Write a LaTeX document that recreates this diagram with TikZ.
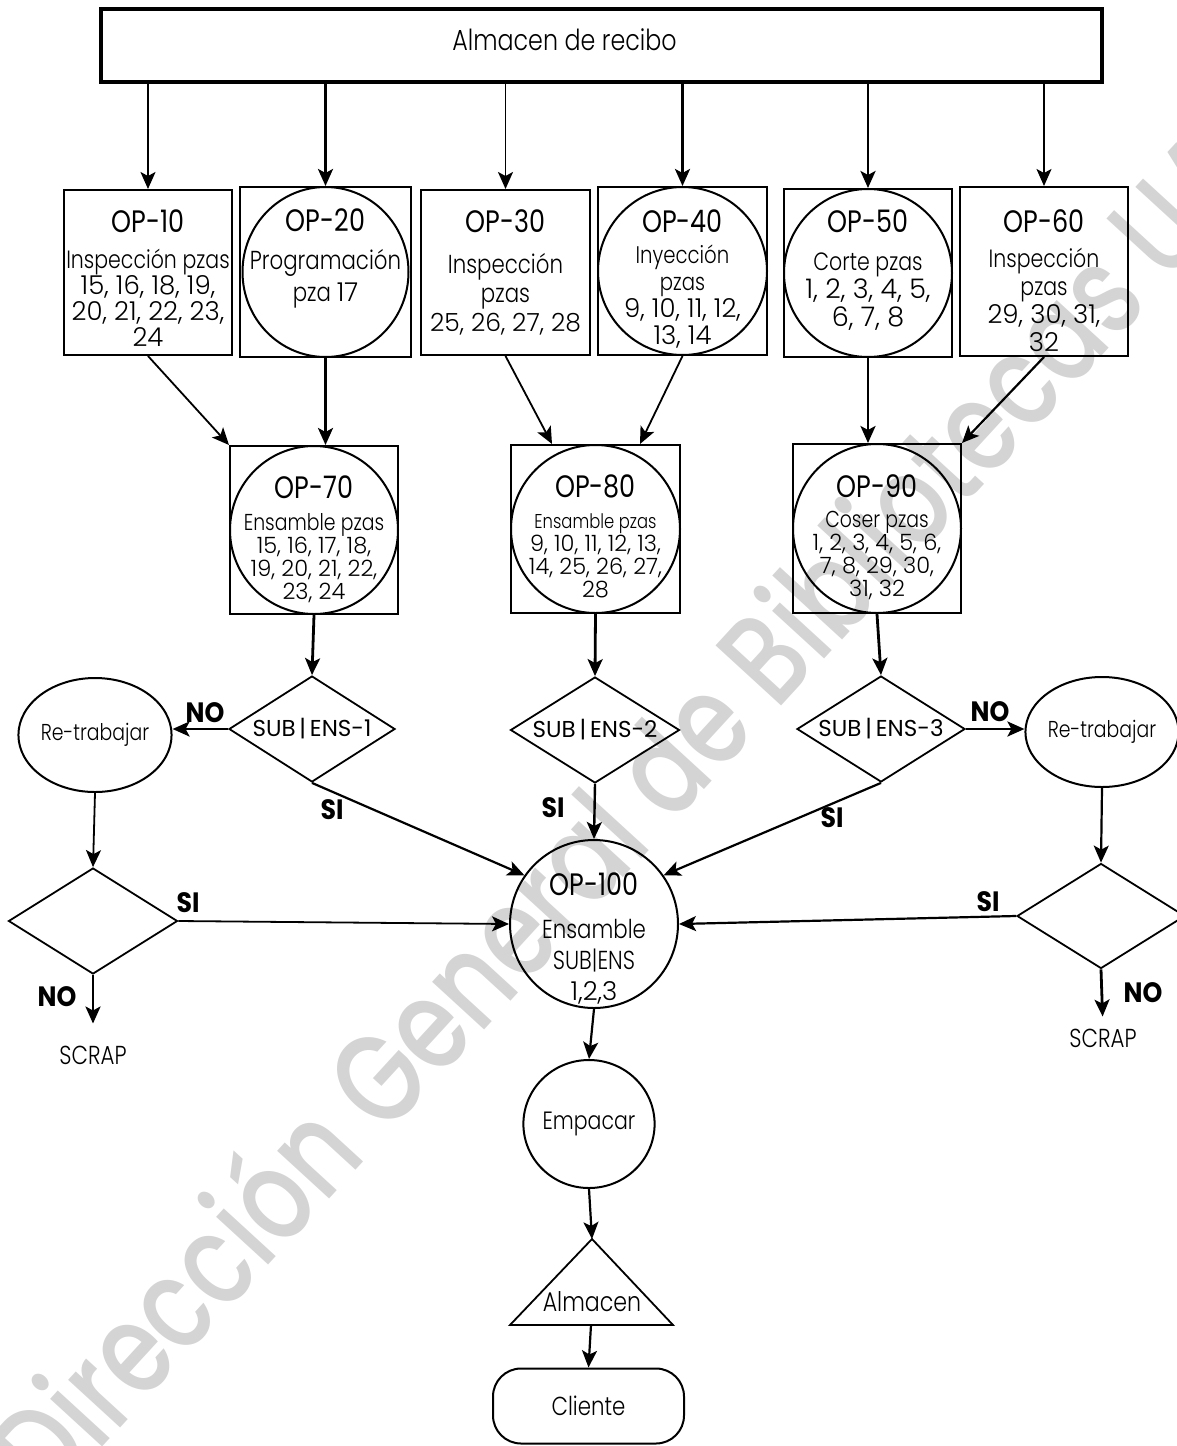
\documentclass[tikz,border=0pt]{standalone}
\usepackage{fontspec}
\usetikzlibrary{arrows.meta,shapes.geometric,calc}
\setmainfont{Poppins}[FakeStretch=0.9]
\newfontfamily\rgf{Poppins}[FakeStretch=0.82]
\newfontfamily\rgb{Poppins}[FakeStretch=0.9]
\newfontfamily\rgw{Poppins}
\IfFontExistsTF{Poppins Light}
 {\newfontfamily\ltf{Poppins Light}[FakeStretch=0.82]
  \newfontfamily\numf{Poppins Light}}
 {\newfontfamily\ltf{Poppins}[FakeStretch=0.82]
  \newfontfamily\numf{Poppins}}
\IfFontExistsTF{Poppins Medium}
 {\newfontfamily\wmf{Poppins Medium}[FakeStretch=0.78]}
 {\newfontfamily\wmf{Poppins}[FakeStretch=0.78]}
\newcommand\fz[2]{\fontsize{#1}{#2}\selectfont}
\newcommand\wdtx[1]{{\ltf #1}}
\begin{document}
\begin{tikzpicture}[x=1pt,y=-1pt,
 arr/.style={line width=1.8pt,-{Stealth[length=17pt,width=15pt,inset=4pt]}},
 tarr/.style={arr,line width=2.8pt},
 opbox/.style={draw,line width=2pt,rectangle,inner sep=0pt,minimum width=168pt,minimum height=167pt},
 opell/.style={draw,line width=2pt,ellipse,inner sep=0pt},
 ttl/.style={font=\rgf\fz{31}{33},inner sep=0pt},
 bdy/.style={align=center,inner sep=0pt},
 dia/.style={draw,diamond,line width=1.8pt,inner sep=0pt,minimum width=168pt,minimum height=106pt},
 dtxt/.style={font=\rgw\fz{23}{26},inner sep=0pt},
 lbl/.style={font=\rgb\bfseries\fz{28}{30},inner sep=0pt},
 rw/.style={draw,line width=2pt,ellipse,inner sep=0pt,minimum width=124pt,minimum height=114pt,font=\ltf\fz{23}{26}},
 plain/.style={inner sep=0pt},
]
\useasboundingbox (0,0) rectangle (1177,1446);

% watermark
\node[font=\wmf\fz{128}{128},text=black!17,rotate=47.5,inner sep=0pt] (wmark) at (650,785) {Dirección General de Bibliotecas UAQ};

% top box
\node[draw,line width=3.5pt,rectangle,inner sep=0pt,minimum width=1001pt,minimum height=73pt] (tb) at (601.5,45.5) {};
\node[font=\ltf\fz{29}{32},inner sep=0pt] (tbt) at (564.5,40) {Almacen de recibo};

% row 1
\node[opbox,minimum height=165pt] (op10) at (148,272.5) {};
\node[opbox,minimum width=171pt,minimum height=170pt] (op20) at (325.5,272) {};
\node[opell,minimum width=166pt,minimum height=170pt] (op20c) at (325.5,272) {};
\node[opbox,minimum width=169pt,minimum height=165pt] (op30) at (505.5,272.5) {};
\node[opbox,minimum width=169pt,minimum height=168pt] (op40) at (682.5,271) {};
\node[opell,minimum width=169pt,minimum height=168pt] (op40c) at (682.5,271) {};
\node[opbox,minimum height=168pt] (op50) at (868,273) {};
\node[opell,minimum width=168pt,minimum height=168pt] (op50c) at (868,273) {};
\node[opbox,minimum height=169pt] (op60) at (1044,271.5) {};

\node[ttl] (op10h) at (148,221) {OP-10};
\node[bdy,font=\numf\fz{26}{26}] (op10b) at (148,297.5) {\wdtx{\fz{25}{26}Inspección pzas}\\15, 16, 18, 19,\\20, 21, 22, 23,\\24};
\node[ttl] (op20h) at (325.5,220) {OP-20};
\node[bdy,font=\ltf\fz{26}{32}] (op20b) at (325.5,279) {Programación\\pza {\numf\fz{26}{32}17}};
\node[ttl] (op30h) at (505.5,221) {OP-30};
\node[bdy,font=\numf\fz{25}{29}] (op30b) at (505.5,294) {\wdtx{\fz{26}{29}Inspección}\\\wdtx{\fz{26}{29}pzas}\\25, 26, 27, 28};
\node[ttl] (op40h) at (682.5,221) {OP-40};
\node[bdy,font=\numf\fz{26}{27}] (op40b) at (682.5,297) {\wdtx{\fz{24}{27}Inyección}\\\wdtx{\fz{24}{27}pzas}\\9, 10, 11, 12,\\13, 14};
\node[ttl] (op50h) at (868,221) {OP-50};
\node[bdy,font=\numf\fz{27}{28}] (op50b) at (868,292) {\wdtx{\fz{25}{28}Corte pzas}\\1, 2, 3, 4, 5,\\6, 7, 8};
\node[ttl] (op60h) at (1044,221) {OP-60};
\node[bdy,font=\numf\fz{26}{28}] (op60b) at (1044,300) {\wdtx{\fz{25}{28}Inspección}\\\wdtx{\fz{25}{28}pzas}\\29, 30, 31,\\32};

% row 2
\node[opbox,minimum height=168pt] (op70) at (314,530) {};
\node[opell,minimum width=168pt,minimum height=168pt] (op70c) at (314,530) {};
\node[opbox,minimum width=169pt,minimum height=168pt] (op80) at (595.5,529) {};
\node[opell,minimum width=169pt,minimum height=168pt] (op80c) at (595.5,529) {};
\node[opbox,minimum height=169pt] (op90) at (877,528.5) {};
\node[opell,minimum width=168pt,minimum height=169pt] (op90c) at (877,528.5) {};

\node[ttl] (op70h) at (314,487) {OP-70};
\node[bdy,font=\numf\fz{22.5}{23}] (op70b) at (314,558) {\wdtx{\fz{23}{23}Ensamble pzas}\\15, 16, 17, 18,\\19, 20, 21, 22,\\23, 24};
\node[ttl] (op80h) at (595.5,486) {OP-80};
\node[bdy,font=\numf\fz{22.5}{23}] (op80b) at (595.5,556) {\wdtx{\fz{20}{23}Ensamble pzas}\\9, 10, 11, 12, 13,\\14, 25, 26, 27,\\28};
\node[ttl] (op90h) at (877,486) {OP-90};
\node[bdy,font=\numf\fz{22.5}{23}] (op90b) at (877,556) {\wdtx{\fz{23}{23}Coser pzas}\\1, 2, 3, 4, 5, 6,\\7, 8, 29, 30,\\31, 32};

% decisions
\node[dia,minimum width=166pt,label={[dtxt,name=d1t]center:SUB\,|\,ENS-1}] (d1) at (312,729) {};
\node[dia,minimum width=169pt,label={[dtxt,name=d2t]center:SUB\,|\,ENS-2}] (d2) at (595,730) {};
\node[dia,label={[dtxt,name=d3t]center:SUB\,|\,ENS-3}] (d3) at (881,729) {};
\node[dia,minimum width=169pt] (d4) at (93,921) {};
\node[dia,minimum height=105pt] (d5) at (1101,916) {};

\node[rw] (rw1) at (95,735) {Re-trabajar};
\node[rw,minimum width=126pt,minimum height=110pt] (rw2) at (1102,732) {Re-trabajar};

% OP-100 and end chain
\node[opell,minimum width=168pt,minimum height=168pt] (op100) at (594,924) {};
\node[ttl] (op100h) at (594,884) {OP-100};
\node[bdy,font=\ltf\fz{26}{31}] (op100b) at (594,962) {Ensamble\\SUB|ENS\\{\numf\fz{26}{31}1,2,3}};

\node[opell,minimum width=128pt,minimum height=128pt,font=\ltf\fz{25}{28}] (emp) at (589,1124) {Empacar};
\coordinate (tria) at (592,1239);
\coordinate (trbl) at (510,1325);
\coordinate (trbr) at (673,1325);
\coordinate (trib) at (591,1325);
\draw[line width=1.8pt] (tria) -- (trbl) -- (trbr) -- cycle;
\node[plain,font=\ltf\fz{27}{30}] (alm) at (592,1302) {Almacen};
\node[draw,line width=2pt,rectangle,rounded corners=28pt,inner sep=0pt,minimum width=191pt,minimum height=75pt,font=\ltf\fz{26}{28}] (cli) at (588.5,1406) {Cliente};

\node[plain,font=\ltf\fz{26}{28}] (scrap1) at (93,1055) {SCRAP};
\node[plain,font=\ltf\fz{26}{28}] (scrap2) at (1103,1038) {SCRAP};

% labels
\node[lbl] (no1) at (205,713) {NO};
\node[lbl] (si1) at (332,810) {SI};
\node[lbl] (si2) at (553,808) {SI};
\node[lbl] (si3) at (832,818) {SI};
\node[lbl] (no3) at (990,712) {NO};
\node[lbl] (si4) at (188,903) {SI};
\node[lbl] (no4) at (57,997) {NO};
\node[lbl] (si5) at (988,902) {SI};
\node[lbl] (no5) at (1143,993) {NO};

% connectors
\foreach \n in {op10,op30,op60} \draw[arr] (tb.south -| \n.north) -- (\n.north);
\foreach \n in {op20,op40,op50} \draw[tarr] (tb.south -| \n.north) -- (\n.north);

\draw[arr] (op10.south) -- (op70.north west);
\draw[tarr] (op20.south) -- (op20.south |- op70.north);
\draw[arr] (op30.south) -- ([xshift=-43.5pt]op80.north);
\draw[arr] (op40.south) -- ([xshift=44.5pt]op80.north);
\draw[tarr] (op50.south) -- (op50.south |- op90.north);
\draw[arr,line width=2.2pt] (op60.south) -- (op90.north east);

\draw[tarr] (op70.south) -- (d1.north);
\draw[tarr] (op80.south) -- (d2.north);
\draw[tarr] (op90.south) -- (d3.north);

\draw[tarr] (d1.west) -- (d1.west -| rw1.east);
\draw[tarr] (d3.east) -- (d3.east -| rw2.west);
\draw[arr,line width=2.2pt] (d1.south) -- (op100.145);
\draw[arr,line width=2.4pt] (d2.south) -- (op100.north);
\draw[arr,line width=2.2pt] (d3.south) -- (op100.35);

\draw[arr] (rw1.south) -- (d4.north);
\draw[arr,line width=2.2pt] (rw2.south) -- (d5.north);
\draw[arr] (d4.east) -- (op100.west);
\draw[arr,line width=2.2pt] (d5.west) -- (op100.east);
\draw[tarr,shorten >=22pt] (d4.south) -- (scrap1.north);
\draw[tarr,shorten >=12pt] (d5.south) -- (scrap2.north);

\draw[arr,line width=2.2pt] (op100.south) -- (emp.north);
\draw[arr,line width=2.2pt] (emp.south) -- (tria);
\draw[arr,line width=2.2pt] (trib) -- (cli.north);
\end{tikzpicture}
\end{document}
